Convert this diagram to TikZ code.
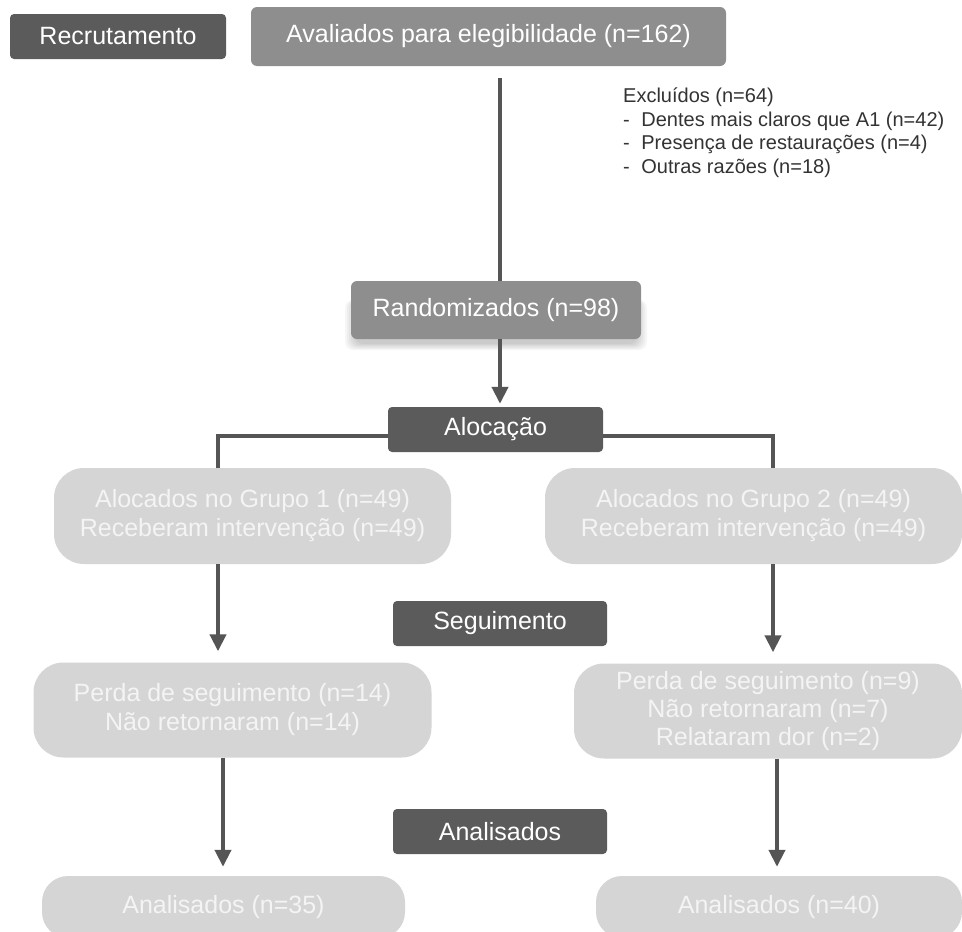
\documentclass[tikz,border=0pt]{standalone}
\usepackage{fontspec}
\setmainfont{Liberation Sans}
\usetikzlibrary{arrows.meta}
\definecolor{darkbox}{HTML}{5B5B5B}
\definecolor{midbox}{HTML}{8E8E8E}
\definecolor{lightbox}{HTML}{D5D5D5}
\definecolor{lightxt}{HTML}{F4F4F4}
\definecolor{linec}{HTML}{555555}
\definecolor{exctxt}{HTML}{333333}
\tikzset{
  darkstage/.style={fill=darkbox, draw=none, rounded corners=4pt, text=white, font=\fontsize{25}{28}\selectfont, inner sep=0pt},
  midstage/.style={fill=midbox, draw=none, rounded corners=6pt, text=white, font=\fontsize{25}{28}\selectfont, inner sep=0pt},
  lightstage/.style={fill=lightbox, draw=none, rounded corners=30pt, text=lightxt, font=\fontsize{25}{29}\selectfont, inner sep=0pt, align=center},
  conn/.style={draw=linec, line width=4pt},
  arr/.style={draw=linec, line width=4pt, -{Triangle[width=16pt,length=17pt]}},
  softshadow/.style={fill=black, opacity=0.035, rounded corners=8pt},
}
\begin{document}
\begin{tikzpicture}[x=1pt,y=-1pt]
\clip (0,0) rectangle (962,932);
\fill[white] (0,0) rectangle (962,932);
% soft shadow under Randomizados
\foreach \d in {0,2,4,6,8,10} {
  \fill[softshadow] (355-\d,300) rectangle (637+\d,344+\d*0.6);
}
% nodes
\node[darkstage, minimum width=216pt, minimum height=45pt] (recr) at (118,36.5) {Recrutamento};
\node[midstage, minimum width=475pt, minimum height=59pt] (aval) at (488.5,36.5) {Avaliados para elegibilidade (n=162)};
\node[anchor=north west, align=left, text=exctxt, font=\fontsize{20}{23.5}\selectfont, inner sep=0pt] (excl) at (623,88)
  {Excluídos (n=64)\\
   -\hspace{6pt} Dentes mais claros que A1 (n=42)\\
   -\hspace{6pt} Presença de restaurações (n=4)\\
   -\hspace{6pt} Outras razões (n=18)};
\node[midstage, minimum width=290pt, minimum height=58pt] (rand) at (496,310) {Randomizados (n=98)};
\node[darkstage, minimum width=215pt, minimum height=45pt] (aloc) at (495.5,429.5) {Alocação};
\node[lightstage, minimum width=397pt, minimum height=96pt] (g1) at (252.5,516) {Alocados no Grupo 1 (n=49)\\Receberam intervenção (n=49)};
\node[lightstage, minimum width=417pt, minimum height=96pt] (g2) at (753.5,516) {Alocados no Grupo 2 (n=49)\\Receberam intervenção (n=49)};
\node[darkstage, minimum width=214pt, minimum height=45pt] (seg) at (500,623.5) {Seguimento};
\node[lightstage, minimum width=398pt, minimum height=95pt] (p1) at (232.5,710) {Perda de seguimento (n=14)\\Não retornaram (n=14)};
\node[lightstage, minimum width=388pt, minimum height=95pt, font=\fontsize{25}{28}\selectfont] (p2) at (768,711) {Perda de seguimento (n=9)\\Não retornaram (n=7)\\Relataram dor (n=2)};
\node[darkstage, minimum width=214pt, minimum height=45pt] (ana) at (500,831.5) {Analisados};
\node[lightstage, rounded corners=26pt, minimum width=363pt, minimum height=62pt] (a1) at (223.5,907) {Analisados (n=35)};
\node[lightstage, rounded corners=26pt, minimum width=366pt, minimum height=62pt] (a2) at (779,907) {Analisados (n=40)};
% connectors
\coordinate (tx) at (500,0);
\draw[conn, shorten <=12pt] (tx |- aval.south) -- (tx |- rand.north);
\draw[arr, shorten >=3pt] (tx |- rand.south) -- (tx |- aloc.north);
\coordinate (lb) at (218,436);
\coordinate (rb) at (773,436);
\draw[conn] (aloc.west |- lb) -- (lb) -- (lb |- g1.north);
\draw[conn] (aloc.east |- rb) -- (rb) -- (rb |- g2.north);
\draw[arr, shorten >=11pt] (lb |- g1.south) -- (lb |- p1.north);
\draw[arr, shorten >=11pt] (rb |- g2.south) -- (rb |- p2.north);
\coordinate (lc) at (223,0);
\coordinate (rc) at (777,0);
\draw[arr, shorten >=9pt] (lc |- p1.south) -- (lc |- a1.north);
\draw[arr, shorten >=9pt] (rc |- p2.south) -- (rc |- a2.north);
\end{tikzpicture}
\end{document}
